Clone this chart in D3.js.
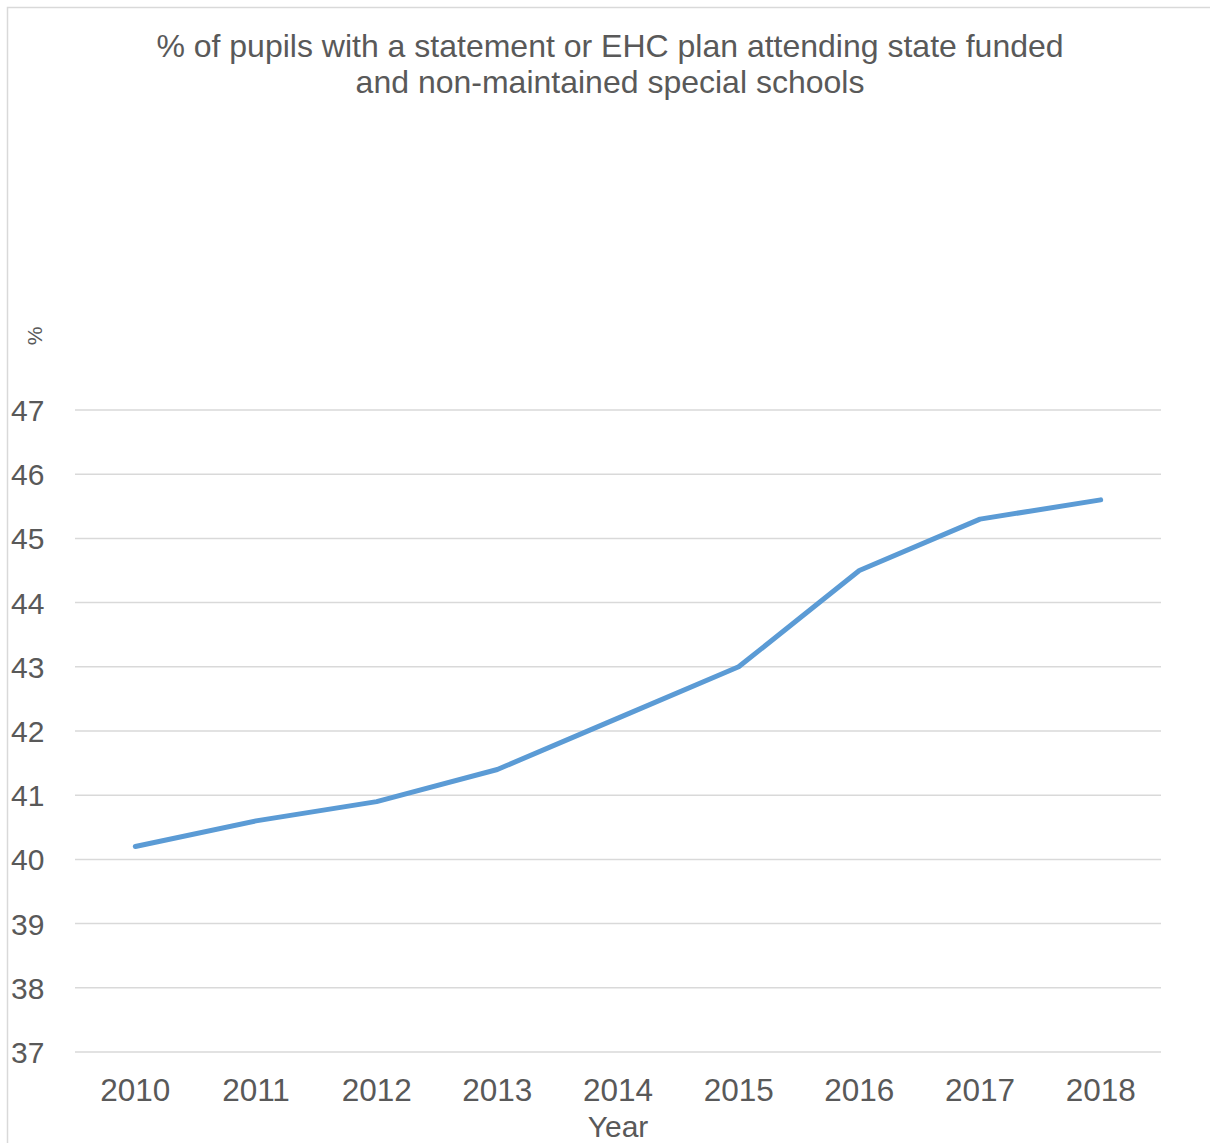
<!DOCTYPE html>
<html><head><meta charset="utf-8">
<script src="https://cdn.jsdelivr.net/npm/d3@7"></script>
<style>html,body{margin:0;padding:0;background:#fff;}svg{display:block;}</style>
</head><body>
<svg id="chart" width="1210" height="1143"></svg>
<script>
const years = ["2010","2011","2012","2013","2014","2015","2016","2017","2018"];
const values = [40.2, 40.6, 40.9, 41.4, 42.2, 43.0, 44.5, 45.3, 45.6];
const yTicks = [37,38,39,40,41,42,43,44,45,46,47];
const titleLines = ["% of pupils with a statement or EHC plan attending state funded","and non-maintained special schools"];

(function(){
const svg = d3.select("#chart");
const font = "'Liberation Sans', Arial, sans-serif";
const textColor = "#595959";

svg.append("rect").attr("x",7.5).attr("y",7.5).attr("width",1230).attr("height",1160)
  .attr("fill","#fff").attr("stroke","#d9d9d9").attr("stroke-width",1.5);

const pLeft = 75, pRight = 1161, pTop = 410, pBottom = 1052;
const x = d3.scalePoint().domain(years).range([pLeft, pRight]).padding(0.5);
const y = d3.scaleLinear().domain([37,47]).range([pBottom, pTop]);

svg.append("g").selectAll("line").data(yTicks).join("line")
  .attr("x1",pLeft).attr("x2",pRight)
  .attr("y1",d=>y(d)).attr("y2",d=>y(d))
  .attr("stroke","#d9d9d9").attr("stroke-width",1.5);

svg.append("g").selectAll("text").data(yTicks).join("text")
  .attr("x",11).attr("y",d=>y(d)+11)
  .attr("font-family",font).attr("font-size",30).attr("fill",textColor)
  .text(d=>d);

svg.append("g").selectAll("text").data(years).join("text")
  .attr("x",d=>x(d)).attr("y",1101).attr("text-anchor","middle")
  .attr("font-family",font).attr("font-size",31.5).attr("fill",textColor)
  .text(d=>d);

const line = d3.line().x((d,i)=>x(years[i])).y(d=>y(d));
svg.append("path").datum(values).attr("d",line)
  .attr("fill","none").attr("stroke","#5B9BD5").attr("stroke-width",5)
  .attr("stroke-linecap","round").attr("stroke-linejoin","round");

svg.append("g").selectAll("text").data(titleLines).join("text")
  .attr("x",610).attr("y",(d,i)=>57+i*36).attr("text-anchor","middle")
  .attr("font-family",font).attr("font-size",32).attr("fill",textColor)
  .text(d=>d);

svg.append("text").attr("transform","translate(42,336) rotate(-90)")
  .attr("text-anchor","middle").attr("font-family",font).attr("font-size",21).attr("fill",textColor)
  .text("%");
svg.append("text").attr("x",(pLeft+pRight)/2).attr("y",1137).attr("text-anchor","middle")
  .attr("font-family",font).attr("font-size",30).attr("fill",textColor)
  .text("Year");
})();
</script>
</body></html>
